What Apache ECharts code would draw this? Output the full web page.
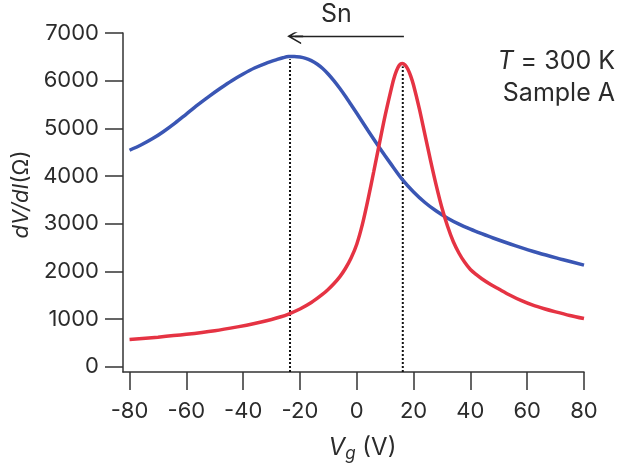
<!DOCTYPE html>
<html>
<head>
<meta charset="utf-8">
<script src="https://cdn.jsdelivr.net/npm/echarts@6/dist/echarts.min.js"></script>
<style>
html,body{margin:0;padding:0;background:#fff;}
#c{width:619px;height:470px;}
</style>
</head>
<body>
<div id="c"></div>
<script>
// ---- data ----
const xTicks = [-80, -60, -40, -20, 0, 20, 40, 60, 80];
const yTicks = [0, 1000, 2000, 3000, 4000, 5000, 6000, 7000];

const blueX = [-80,-76,-72,-68,-64,-60,-56,-52,-48,-44,-40,-36,-32,-28,-26,-24,-22,-20,-18,-16,-14,-12,-10,-8,-6,-4,-2,0,4,8,12,16,20,24,28,32,36,40,44,48,56,64,72,80];
const blueY = [4540,4650,4780,4935,5110,5300,5490,5670,5840,6000,6140,6265,6365,6445,6480,6505,6508,6495,6468,6420,6350,6255,6135,5995,5840,5672,5495,5315,4950,4595,4255,3930,3665,3445,3265,3115,2990,2885,2790,2700,2535,2385,2255,2130];

const redX = [-80,-70,-60,-50,-42,-36,-30,-27,-24,-20,-16,-12,-10,-8,-6,-4,-2,0,2,4,6,8,10,12,13,14,15,16,17,18,19,20,22,24,26,28,30,32,34,36,38,40,42,44,47,50,54,58,62,66,70,75,80];
const redY = [570,620,680,755,835,905,990,1042,1105,1210,1345,1520,1625,1745,1885,2060,2280,2570,2990,3520,4100,4690,5270,5790,6030,6210,6325,6360,6330,6240,6095,5905,5420,4870,4320,3800,3330,2940,2620,2380,2190,2040,1935,1845,1730,1630,1500,1385,1290,1215,1150,1075,1010];

const dotX = [-23.5, 16.2];
const dotTop = [6450, 6300];

const arrowX = [16.6, -21.7];
const arrowY = [6930, 6930];

const xMin = -82.3, xMax = 80;
const yMin = -111, yMax = 7000;

// ---- chart ----
const FONT = 'Inter, "Liberation Sans", Arial, sans-serif';
const TXT = '#2b2b2b';
const AX = '#333333';

const chart = echarts.init(document.getElementById('c'), null, {renderer: 'canvas'});

const pairs = (xs, ys) => xs.map((x, i) => [x, ys[i]]);

const chevron = 'path://M0,14 L6,0 L12,14 L10.7,14 L6,3.2 L1.3,14 Z M5.3,1.5 L6.7,1.5 L6.7,16 L5.3,16 Z';

const series = [
  {
    name: 'blue', type: 'line', data: pairs(blueX, blueY),
    smooth: 0.3, showSymbol: false, symbol: 'none',
    lineStyle: {color: '#3a56b4', width: 3.5}, z: 3
  },
  {
    name: 'red', type: 'line', data: pairs(redX, redY),
    smooth: 0.3, showSymbol: false, symbol: 'none',
    lineStyle: {color: '#e53343', width: 3.5}, z: 3
  }
];
dotX.forEach((x, i) => {
  series.push({
    type: 'line', data: [[x, yMin], [x, dotTop[i]]], symbol: 'none',
    lineStyle: {color: '#111', width: 2, type: [2, 2]}, z: 2, silent: true
  });
});
series.push({
  type: 'lines', coordinateSystem: 'cartesian2d',
  data: [{coords: [[arrowX[0], arrowY[0]], [arrowX[1], arrowY[1]]]}],
  symbol: ['none', chevron], symbolSize: [12, 16],
  lineStyle: {color: '#222', width: 1.4, opacity: 1, curveness: 0},
  z: 4, silent: true
});

const plain = v => String(v);

chart.setOption({
  animation: false,
  backgroundColor: '#fff',
  grid: {left: 123, right: 35, top: 33, bottom: 98, containLabel: false, outerBoundsMode: 'none'},
  xAxis: {
    type: 'value', min: xMin, max: xMax,
    axisLine: {show: true, onZero: false, lineStyle: {color: AX, width: 1.5}},
    axisTick: {show: true, inside: false, length: 18, customValues: xTicks, lineStyle: {color: AX, width: 1.5}},
    axisLabel: {show: true, customValues: xTicks, formatter: plain, margin: 28, color: TXT, fontSize: 22, fontFamily: FONT},
    splitLine: {show: false},
    name: '{i|V}{s|g}{n| (V)}',
    nameLocation: 'middle', nameGap: 61,
    nameTextStyle: {
      padding: [0, 0, 0, 18],
      rich: {
        i: {fontStyle: 'italic', fontSize: 24, color: TXT, fontFamily: FONT},
        s: {fontStyle: 'italic', fontSize: 17, color: TXT, fontFamily: FONT, padding: [12, 0, 0, 0]},
        n: {fontSize: 24, color: TXT, fontFamily: FONT}
      }
    }
  },
  yAxis: {
    type: 'value', min: yMin, max: yMax,
    axisLine: {show: true, onZero: false, lineStyle: {color: AX, width: 1.5}},
    axisTick: {show: true, inside: false, length: 18, customValues: yTicks, lineStyle: {color: AX, width: 1.5}},
    axisLabel: {show: true, customValues: yTicks, formatter: plain, margin: 24, color: TXT, fontSize: 22, fontFamily: FONT},
    splitLine: {show: false},
    name: '{i|dV/dI}{n|(Ω)}',
    nameLocation: 'middle', nameGap: 82,
    nameTextStyle: {
      padding: [0, 0, 0, 16],
      rich: {
        i: {fontStyle: 'italic', fontSize: 22, color: TXT, fontFamily: FONT},
        n: {fontSize: 22, color: TXT, fontFamily: FONT}
      }
    }
  },
  graphic: [
    {type: 'text', left: 321, top: 2, style: {text: 'Sn', fontSize: 25, fill: TXT, fontFamily: FONT}},
    {type: 'text', right: 4, top: 49, style: {
      text: '{i|T}{n| = 300 K}', fill: TXT,
      rich: {
        i: {fontStyle: 'italic', fontSize: 25, fill: TXT, fontFamily: FONT},
        n: {fontSize: 25, fill: TXT, fontFamily: FONT}
      }
    }},
    {type: 'text', right: 4, top: 81, style: {text: 'Sample A', fontSize: 25, fill: TXT, fontFamily: FONT}}
  ],
  series: series
});
</script>
</body>
</html>
